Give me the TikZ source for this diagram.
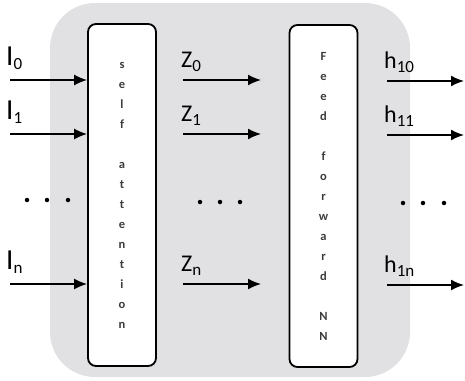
\documentclass[tikz,border=0pt]{standalone}
\usepackage{fontspec}
\setmainfont{Carlito}
\usepackage{tikz}
\usetikzlibrary{arrows.meta,positioning}
\definecolor{panelgray}{RGB}{225,225,227}
\definecolor{lettergray}{RGB}{60,60,60}
\newcommand{\sublbl}[3]{{\fontsize{#1}{#1}\selectfont #2}\raisebox{-4pt}{\fontsize{17}{17}\selectfont #3}}

\begin{document}
\begin{tikzpicture}[x=1pt,y=-1pt,
	panel/.style = {fill=panelgray, rounded corners=45pt, minimum width=360pt, minimum height=374pt, inner sep=0pt},
	layer/.style = {draw, line width=1.8pt, fill=white, rounded corners=8pt, minimum width=68pt, minimum height=342pt, inner sep=0pt, align=center, text=lettergray, font=\fontsize{12.5}{20}\selectfont\bfseries},
	arr/.style   = {-{Latex[length=13pt,width=11pt]}, line width=1.6pt},
	dot/.style   = {circle, fill, inner sep=0pt, minimum size=4.5pt},
	lbl/.style   = {anchor=base west, inner sep=0pt}]
	
	\useasboundingbox (0,0) rectangle (465,380);
	
	% grey panel behind both layers
	\node[panel] (bg) at (230,190) {};
	
	% the two layers
	\node[layer] (sa) at (122,195) {s\\e\\l\\f\\[20pt]a\\t\\t\\e\\n\\t\\i\\o\\n};
	\node[layer] (ff) at (323.5,196) {F\\e\\e\\d\\[20pt]f\\o\\r\\w\\a\\r\\d\\[20pt]N\\N};
	
	% inputs, outputs of self attention, outputs of feed forward
	\foreach \r/\y in {0/80, 1/134, n/284} {
		\coordinate (in\r) at (10,\y);
		\draw[arr] (in\r) -- (in\r -| sa.west);
		\node[lbl] (I\r) at (6,\y-15) {\sublbl{29}{I}{\r}};
		
		\coordinate (zs\r) at (183,\y);
		\coordinate (ze\r) at (261,\y);
		\draw[arr] (zs\r) -- (ze\r);
		\node[lbl] (Z\r) at (181,\y-13) {\sublbl{24}{Z}{\r}};
		
		\coordinate (hs\r) at (387,\y+1);
		\coordinate (he\r) at (464,\y+1);
		\draw[arr] (hs\r) -- (he\r);
		\node[lbl] (h\r) at (384,\y-12) {\sublbl{24}{h}{1\r}};
	}
	
	% dots between the rows
	\foreach \x [count=\i] in {27,47,68}
		\node[dot] (dl\i) at (\x,200) {};
	\foreach \x [count=\i] in {200,220,240}
		\node[dot] (dm\i) at (\x,202) {};
	\foreach \x [count=\i] in {403,423,444}
		\node[dot] (dr\i) at (\x,203) {};
	
\end{tikzpicture}
\end{document}
